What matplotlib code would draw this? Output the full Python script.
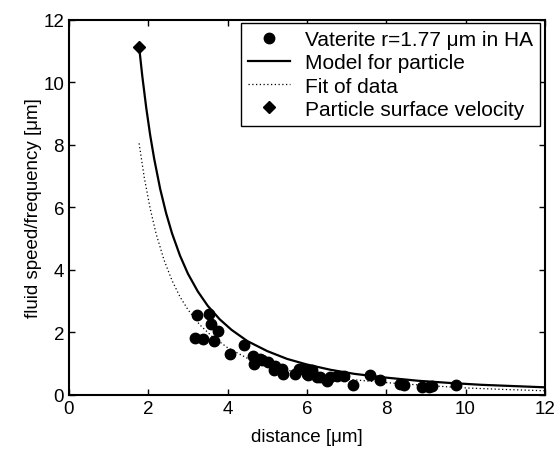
import numpy as np
import matplotlib
matplotlib.use("Agg")
import matplotlib.pyplot as plt

# measured data points (distance [um], speed/frequency [um])
dataX = [3.18, 3.22, 3.38, 3.54, 3.58, 3.66, 3.75, 4.07, 4.42, 4.64, 4.67, 4.82,
         4.87, 5.03, 5.16, 5.20, 5.37, 5.41, 5.71, 5.79, 5.92, 6.00, 6.04, 6.13,
         6.25, 6.34, 6.51, 6.59, 6.76, 6.93, 7.16, 7.58, 7.84, 8.34, 8.45, 8.90,
         9.07, 9.16, 9.75]
dataY = [1.83, 2.54, 1.80, 2.60, 2.28, 1.71, 2.03, 1.31, 1.58, 1.24, 0.99, 1.15,
         1.13, 1.04, 0.78, 0.92, 0.83, 0.67, 0.67, 0.83, 0.83, 0.67, 0.64, 0.78,
         0.57, 0.57, 0.43, 0.57, 0.60, 0.60, 0.33, 0.63, 0.46, 0.35, 0.30, 0.25,
         0.25, 0.29, 0.30]

# model curve for the particle
modelX = [1.77, 1.85, 1.95, 2.05, 2.15, 2.3, 2.45, 2.6, 2.8, 3.0, 3.25, 3.5,
          3.8, 4.1, 4.5, 5.0, 5.5, 6.0, 6.6, 7.2, 8.0, 8.8, 9.6, 10.4, 11.2, 12.0]
modelY = [11.15, 10.21, 9.19, 8.31, 7.56, 6.60, 5.82, 5.17, 4.46, 3.88, 3.31, 2.85,
          2.42, 2.08, 1.72, 1.40, 1.15, 0.97, 0.80, 0.67, 0.55, 0.45, 0.38, 0.32,
          0.28, 0.24]

# fit of the data
fitX = [1.77, 1.9, 2.05, 2.2, 2.4, 2.6, 2.8, 3.0, 3.3, 3.6, 4.0, 4.5,
        5.0, 5.5, 6.0, 7.0, 8.0, 9.0, 10.0, 11.0, 12.0]
fitY = [8.05, 6.96, 5.96, 5.15, 4.31, 3.66, 3.14, 2.73, 2.24, 1.88, 1.51, 1.17,
        0.96, 0.79, 0.66, 0.50, 0.39, 0.30, 0.22, 0.17, 0.13]

# particle surface velocity
surfX = [1.77]
surfY = [11.15]

plt.rcParams["font.family"] = ["Liberation Sans", "DejaVu Sans"]
plt.rcParams["font.size"] = 13.5

fig = plt.figure(figsize=(5.6, 4.56), dpi=100)
ax = fig.add_axes([0.123, 0.132, 0.850, 0.822])

ax.plot(dataX, dataY, linestyle="None", marker="o", color="black",
        markersize=7.5, label=u"Vaterite r=1.77 \u03bcm in HA")
ax.plot(modelX, modelY, color="black", linewidth=1.6, label="Model for particle")
ax.plot(fitX, fitY, color="black", linewidth=0.9, linestyle=(0, (1, 2)),
        label="Fit of data")
ax.plot(surfX, surfY, linestyle="None", marker="D", color="black",
        markersize=6, label="Particle surface velocity")

ax.set_xlim(0, 12)
ax.set_ylim(0, 12)
ax.set_xticks(np.arange(0, 13, 2))
ax.set_yticks(np.arange(0, 13, 2))
ax.tick_params(direction="in", length=4, width=1, top=True, right=True,
               labelsize=13.5)
for s in ax.spines.values():
    s.set_linewidth(1.5)

ax.set_xlabel(u"distance [\u03bcm]", fontsize=13.5, labelpad=8)
ax.set_ylabel(u"fluid speed/frequency [\u03bcm]", fontsize=13.5, labelpad=1)

leg = ax.legend(loc="upper right", bbox_to_anchor=(0.9895, 0.992),
                borderaxespad=0, fancybox=False, framealpha=1,
                edgecolor="black", fontsize=15, handlelength=2.0,
                labelspacing=0.2, borderpad=0.35, handletextpad=0.7)
leg.get_frame().set_linewidth(1.0)

fig.savefig("out.png", dpi=100)
